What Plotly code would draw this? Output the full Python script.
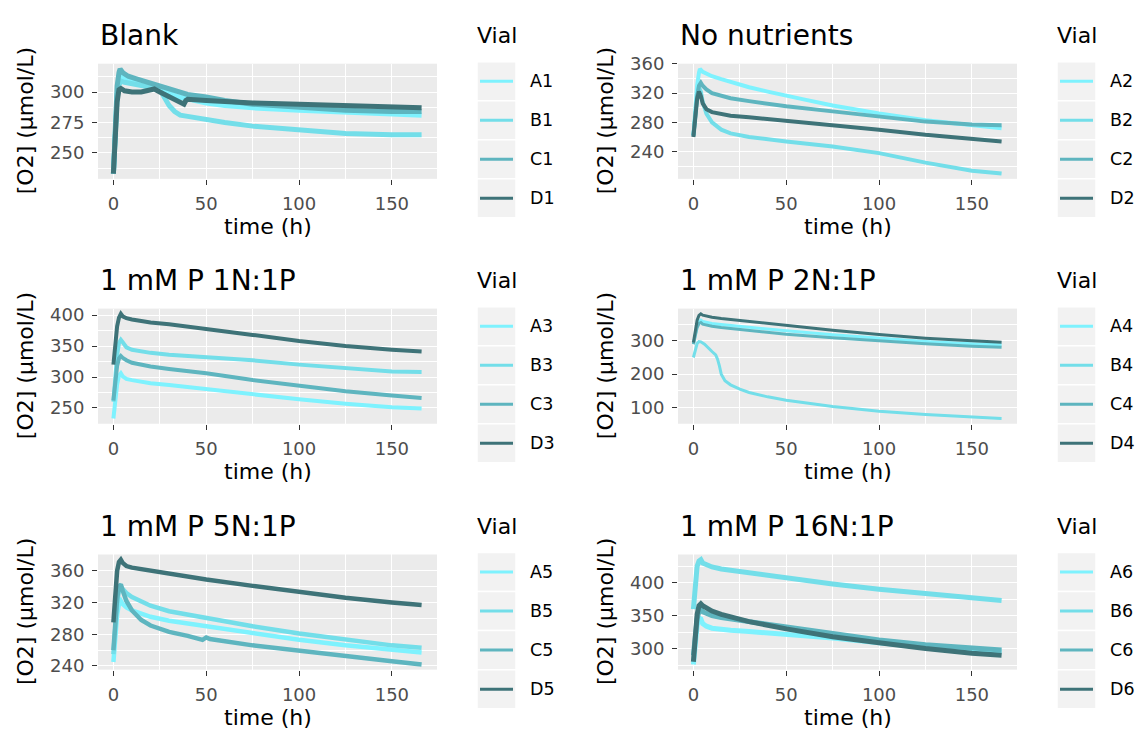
import plotly.graph_objects as go

FIG_W, FIG_H = 1137, 742
FONT = "DejaVu Sans"

vial_letters = ["A", "B", "C", "D"]
vial_colors = ["#7EF2FE", "#73DEE9", "#5EB5BF", "#3E7378"]

panel_titles = ["Blank", "No nutrients", "1 mM P 1N:1P",
                "1 mM P 2N:1P", "1 mM P 5N:1P", "1 mM P 16N:1P"]
x_ticks = [0, 50, 100, 150]
y_ticks_blank = [250, 275, 300]
y_ticks_none = [240, 280, 320, 360]
y_ticks_1n = [250, 300, 350, 400]
y_ticks_2n = [100, 200, 300]
y_ticks_5n = [240, 280, 320, 360]
y_ticks_16n = [300, 350, 400]

# ---- Blank ----
t_A1 = [0, 0.5, 1, 2, 3, 4, 6, 10, 15, 20, 25, 30, 35, 40, 50, 60, 75, 100, 125, 150, 166]
o2_A1 = [233, 255, 275, 298, 309, 313, 311, 309, 307, 305, 302, 299, 296, 294, 291, 289, 287, 285, 283, 282, 281]
t_B1 = [0, 0.5, 1, 2, 3, 4, 6, 10, 15, 20, 25, 27, 30, 33, 36, 40, 50, 60, 75, 100, 125, 150, 166]
o2_B1 = [233, 255, 275, 296, 306, 309, 308, 307, 305, 304, 302, 297, 289, 284, 281, 280, 277, 275, 272, 268.5, 266, 265, 265]
t_C1 = [0, 0.5, 1, 2, 3, 3.6, 5, 8, 12, 20, 25, 30, 35, 40, 50, 60, 75, 100, 125, 150, 166]
o2_C1 = [233, 258, 280, 305, 316, 319, 316, 313, 311, 307, 305, 302, 300, 298, 296, 293, 290, 287, 285, 284, 284]
t_D1 = [0, 0.5, 1, 2, 3, 4, 6, 10, 15, 20, 22, 25, 30, 35, 37, 38, 39, 40, 50, 60, 75, 100, 125, 150, 166]
o2_D1 = [233, 252, 268, 292, 302, 303, 301, 300, 300, 302, 302.5, 300, 296, 292, 290, 290, 293, 294, 293, 292, 291, 290, 289, 288, 287]

# ---- No nutrients ----
t_A2 = [0, 1, 2, 3, 3.5, 5, 7, 10, 15, 20, 30, 40, 50, 60, 75, 100, 125, 150, 166]
o2_A2 = [262, 300, 330, 348, 353, 349, 346, 343, 339, 335, 328, 322, 316, 311, 303, 292, 283, 276, 272]
t_B2 = [0, 1, 2, 3, 4, 5, 7, 10, 15, 20, 30, 50, 75, 100, 125, 150, 166]
o2_B2 = [262, 290, 315, 328, 322, 308, 292, 280, 270, 265, 260, 254, 247, 238, 225, 214, 210]
t_C2 = [0, 1, 2, 3, 4, 5, 7, 10, 15, 20, 30, 50, 75, 100, 125, 150, 166]
o2_C2 = [262, 290, 315, 330, 334, 330, 325, 320, 316, 313, 309, 302, 295, 288, 281, 277, 276]
t_D2 = [0, 1, 2, 3, 4, 5, 7, 10, 15, 20, 30, 50, 75, 100, 125, 150, 166]
o2_D2 = [260, 288, 312, 322, 316, 306, 298, 294, 291, 289, 287, 282, 277, 270, 263, 257, 254]

# ---- 1 mM P 1N:1P ----
t_A3 = [0, 1, 2, 3, 4, 5, 7, 10, 15, 20, 30, 50, 75, 100, 125, 150, 166]
o2_A3 = [233, 262, 288, 302, 306, 301, 297, 295, 292, 290, 287, 280, 272, 264, 257, 251, 249]
t_B3 = [0, 1, 2, 3, 4, 5, 7, 10, 15, 20, 30, 50, 75, 100, 125, 150, 166]
o2_B3 = [260, 300, 335, 355, 360, 356, 348, 344, 341, 339, 336, 332, 327, 320, 314, 309, 308]
t_C3 = [0, 1, 2, 3, 4, 5, 7, 10, 15, 20, 30, 50, 75, 100, 125, 150, 166]
o2_C3 = [262, 295, 318, 330, 334, 331, 327, 323, 320, 317, 313, 306, 295, 286, 277, 270, 266]
t_D3 = [0, 1, 2, 3, 4, 5, 7, 10, 15, 20, 30, 50, 75, 100, 125, 150, 166]
o2_D3 = [320, 355, 382, 396, 402, 398, 395, 393, 390, 388, 385, 378, 368, 358, 350, 344, 341]

# ---- 1 mM P 2N:1P ----
t_A4 = [0, 1, 2, 3, 4, 5, 7, 10, 15, 20, 30, 50, 75, 100, 125, 150, 166]
o2_A4 = [290, 320, 345, 358, 362, 358, 355, 352, 349, 346, 341, 330, 318, 307, 298, 291, 288]
t_B4 = [0, 1, 2, 3, 4, 6, 8, 10, 12, 13, 14, 15, 17, 20, 25, 30, 40, 50, 75, 100, 125, 150, 166]
o2_B4 = [250, 275, 292, 298, 297, 290, 278, 268, 258, 245, 225, 200, 180, 168, 155, 145, 132, 122, 103, 89, 79, 72, 67]
t_C4 = [0, 1, 2, 3, 4, 5, 7, 10, 15, 20, 30, 50, 75, 100, 125, 150, 166]
o2_C4 = [290, 318, 340, 352, 355, 350, 347, 344, 340, 337, 331, 320, 309, 299, 291, 284, 281]
t_D4 = [0, 1, 2, 3, 4, 5, 7, 10, 15, 20, 30, 50, 75, 100, 125, 150, 166]
o2_D4 = [295, 335, 362, 376, 381, 377, 374, 371, 367, 364, 358, 346, 332, 319, 308, 300, 296]

# ---- 1 mM P 5N:1P ----
t_A5 = [0, 1, 2, 3, 4, 5, 7, 10, 15, 20, 30, 50, 75, 100, 125, 150, 166]
o2_A5 = [245, 280, 305, 318, 322, 318, 314, 310, 306, 302, 297, 290, 281, 273, 266, 260, 257]
t_B5 = [0, 1, 2, 3, 4, 5, 7, 10, 15, 20, 30, 50, 75, 100, 125, 150, 166]
o2_B5 = [255, 290, 320, 336, 340, 337, 332, 327, 321, 316, 309, 300, 290, 281, 273, 266, 263]
t_C5 = [0, 1, 2, 3, 4, 5, 7, 10, 15, 20, 30, 40, 48, 50, 52, 75, 100, 125, 150, 166]
o2_C5 = [260, 295, 325, 340, 343, 335, 322, 310, 298, 291, 283, 278, 273, 276, 274, 266, 259, 252, 246, 242]
t_D5 = [0, 1, 2, 3, 4, 5, 7, 10, 15, 20, 30, 50, 75, 100, 125, 150, 166]
o2_D5 = [295, 335, 360, 371, 374, 370, 366, 364, 362, 360, 356, 349, 341, 333, 326, 320, 317]

# ---- 1 mM P 16N:1P ----
t_A6 = [0, 1, 2, 3, 4, 5, 7, 10, 15, 20, 30, 50, 75, 100, 125, 150, 166]
o2_A6 = [276, 310, 335, 346, 345, 338, 334, 331, 329, 328, 326, 322, 316, 309, 302, 297, 295]
t_B6 = [0, 1, 2, 3, 4, 5, 7, 10, 15, 20, 30, 50, 75, 100, 125, 150, 166]
o2_B6 = [360, 400, 425, 433, 435, 430, 427, 424, 421, 419, 415, 408, 398, 390, 383, 376, 373]
t_C6 = [0, 1, 2, 3, 4, 5, 7, 10, 15, 20, 30, 50, 75, 100, 125, 150, 166]
o2_C6 = [290, 320, 345, 357, 360, 356, 353, 350, 347, 345, 340, 332, 322, 313, 306, 300, 298]
t_D6 = [0, 1, 2, 3, 4, 5, 7, 10, 15, 20, 30, 50, 75, 100, 125, 150, 166]
o2_D6 = [280, 320, 352, 365, 368, 365, 361, 357, 352, 348, 341, 330, 318, 309, 300, 293, 290]

panels = [
    dict(title=panel_titles[0], yticks=y_ticks_blank, lw=5.0,
         series=[(t_A1, o2_A1), (t_B1, o2_B1), (t_C1, o2_C1), (t_D1, o2_D1)]),
    dict(title=panel_titles[1], yticks=y_ticks_none, lw=4.0,
         series=[(t_A2, o2_A2), (t_B2, o2_B2), (t_C2, o2_C2), (t_D2, o2_D2)]),
    dict(title=panel_titles[2], yticks=y_ticks_1n, lw=4.0,
         series=[(t_A3, o2_A3), (t_B3, o2_B3), (t_C3, o2_C3), (t_D3, o2_D3)]),
    dict(title=panel_titles[3], yticks=y_ticks_2n, lw=3.0,
         series=[(t_A4, o2_A4), (t_B4, o2_B4), (t_C4, o2_C4), (t_D4, o2_D4)]),
    dict(title=panel_titles[4], yticks=y_ticks_5n, lw=4.5,
         series=[(t_A5, o2_A5), (t_B5, o2_B5), (t_C5, o2_C5), (t_D5, o2_D5)]),
    dict(title=panel_titles[5], yticks=y_ticks_16n, lw=5.0,
         series=[(t_A6, o2_A6), (t_B6, o2_B6), (t_C6, o2_C6), (t_D6, o2_D6)]),
]

# pixel geometry of the 3x2 grid of panels
col_left = [98, 678]
col_right = [437, 1017]
row_top = [54, 305, 557]
row_bot = [172, 423, 675]
ytitle_x = [25, 605]
legend_x = [475, 1055]


def px(x):
    return x / FIG_W


def py(y):
    return 1 - y / FIG_H


def padded(lo, hi, frac=0.05):
    d = (hi - lo) * frac
    return [lo - d, hi + d]


fig = go.Figure()
layout = dict(
    width=FIG_W, height=FIG_H,
    margin=dict(l=0, r=0, t=0, b=0),
    paper_bgcolor="white", plot_bgcolor="#EBEBEB",
    font=dict(family=FONT, color="black"),
    showlegend=False,
)
annotations = []
shapes = []

for i, p in enumerate(panels):
    r, c = divmod(i, 2)
    ax = "" if i == 0 else str(i + 1)
    xs = [v for t, _ in p["series"] for v in t]
    ys = [v for _, o in p["series"] for v in o]

    for k, (t, o) in enumerate(p["series"]):
        fig.add_trace(go.Scatter(
            x=t, y=o, mode="lines", name=f"{vial_letters[k]}{i + 1}",
            line=dict(color=vial_colors[k], width=p["lw"]),
            xaxis="x" + ax, yaxis="y" + ax, showlegend=False,
        ))

    yt = p["yticks"]
    step = yt[1] - yt[0]
    y_minor = [yt[0] - step / 2] + [v + step / 2 for v in yt]
    x_minor = [v + 25 for v in x_ticks]

    common = dict(
        ticks="outside", ticklen=5, tickwidth=1.1, tickcolor="#333333",
        showgrid=True, gridcolor="white", gridwidth=1.3,
        zeroline=False, showline=False,
        tickfont=dict(family=FONT, size=18, color="#4D4D4D"),
        tickmode="array",
    )
    layout["xaxis" + ax] = dict(
        common, domain=[px(col_left[c]), px(col_right[c])],
        range=padded(min(xs), max(xs)), tickvals=x_ticks,
        anchor="y" + ax, ticklabelstandoff=4,
        minor=dict(tickmode="array", tickvals=x_minor, showgrid=True,
                   gridcolor="white", gridwidth=0.6, ticks=""),
    )
    layout["yaxis" + ax] = dict(
        common, domain=[py(row_bot[r]), py(row_top[r])],
        range=padded(min(ys), max(ys)), tickvals=yt,
        anchor="x" + ax, ticklabelstandoff=4,
        minor=dict(tickmode="array", tickvals=y_minor, showgrid=True,
                   gridcolor="white", gridwidth=0.6, ticks=""),
    )

    # panel title
    annotations.append(dict(
        text=p["title"], x=px(col_left[c]), y=py(row_top[r] - 29),
        xref="paper", yref="paper", xanchor="left", yanchor="middle",
        showarrow=False, font=dict(size=28, color="black")))
    # axis titles
    annotations.append(dict(
        text="time (h)", x=px((col_left[c] + col_right[c]) / 2),
        y=py(row_bot[r] + 49), xref="paper", yref="paper",
        xanchor="center", yanchor="middle", showarrow=False,
        font=dict(size=22, color="black")))
    annotations.append(dict(
        text="[O2] (μmol/L)", x=px(ytitle_x[c]),
        y=py((row_top[r] + row_bot[r]) / 2), xref="paper", yref="paper",
        xanchor="center", yanchor="middle", textangle=-90, showarrow=False,
        font=dict(size=22, color="black")))

    # legend: title, grey key boxes, coloured key lines and labels
    lx = legend_x[c]
    annotations.append(dict(
        text="Vial", x=px(lx), y=py(row_top[r] - 29), xref="paper",
        yref="paper", xanchor="left", yanchor="middle", showarrow=False,
        font=dict(size=22, color="black")))
    key_h = 40
    for k in range(4):
        y0 = row_top[r] - 2 + k * key_h
        shapes.append(dict(
            type="rect", xref="paper", yref="paper",
            x0=px(lx + 2), x1=px(lx + 41), y0=py(y0), y1=py(y0 + key_h),
            fillcolor="#F2F2F2", line=dict(color="white", width=1.5),
            layer="below"))
        yc = y0 + key_h / 2
        shapes.append(dict(
            type="line", xref="paper", yref="paper",
            x0=px(lx + 5), x1=px(lx + 38), y0=py(yc), y1=py(yc),
            line=dict(color=vial_colors[k], width=3)))
        annotations.append(dict(
            text=f"{vial_letters[k]}{i + 1}", x=px(lx + 53), y=py(yc),
            xref="paper", yref="paper", xanchor="left", yanchor="middle",
            showarrow=False, font=dict(size=17.5, color="black")))

layout["annotations"] = annotations
layout["shapes"] = shapes
fig.update_layout(**layout)
fig.write_html("out.html", post_script="document.body.style.margin='0';")
